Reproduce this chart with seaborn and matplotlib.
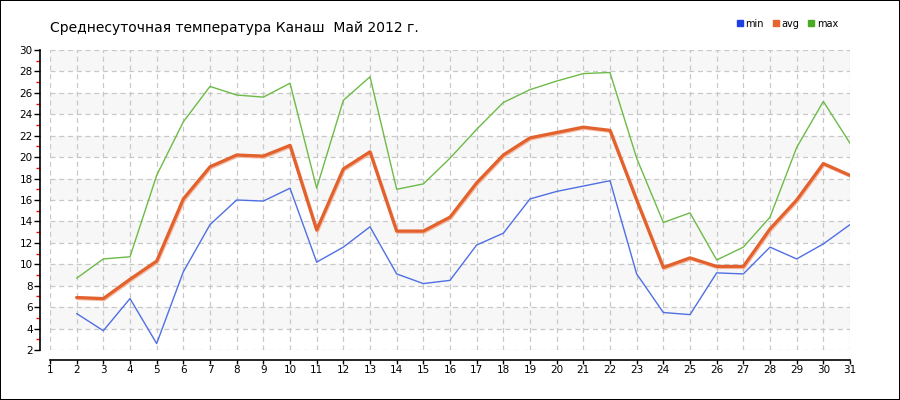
import numpy as np
import pandas as pd
import matplotlib
matplotlib.use("Agg")
import matplotlib.pyplot as plt
import matplotlib.patheffects as pe
from matplotlib.lines import Line2D
import seaborn as sns

# daily temperatures, Kanash, May 2012 (day 1 has no data)
days = list(range(2, 32))
t_min = [5.4, 3.8, 6.8, 2.6, 9.3, 13.7, 16.0, 15.9, 17.1, 10.2, 11.6, 13.5, 9.1, 8.2,
         8.5, 11.8, 12.9, 16.1, 16.8, 17.3, 17.8, 9.1, 5.5, 5.3, 9.2, 9.1, 11.6, 10.5,
         11.9, 13.7]
t_avg = [6.9, 6.8, 8.6, 10.3, 16.1, 19.1, 20.2, 20.1, 21.1, 13.2, 18.9, 20.5, 13.1, 13.1,
         14.4, 17.6, 20.2, 21.8, 22.3, 22.8, 22.5, 16.0, 9.7, 10.6, 9.8, 9.8, 13.3, 16.0,
         19.4, 18.3]
t_max = [8.7, 10.5, 10.7, 18.3, 23.3, 26.6, 25.8, 25.6, 26.9, 17.1, 25.3, 27.5, 17.0, 17.5,
         19.9, 22.6, 25.1, 26.3, 27.1, 27.8, 27.9, 19.9, 13.9, 14.8, 10.4, 11.6, 14.4, 20.9,
         25.2, 21.3]
x_ticks = list(range(1, 32))
y_ticks = list(range(2, 31, 2))
title = "Среднесуточная температура Канаш  Май 2012 г."

df = pd.DataFrame({"day": days, "min": t_min, "avg": t_avg, "max": t_max})

colors = {"min": "#4f6fe3", "avg": "#e2612c", "max": "#6cbb48"}
legend_colors = {"min": "#1e3ee6", "avg": "#e8642e", "max": "#4aab22"}

sns.set_style("white")
plt.rcParams["font.family"] = ["DejaVu Sans"]
plt.rcParams["text.color"] = "black"

fig = plt.figure(figsize=(9, 4), dpi=100, edgecolor="black", linewidth=1.1)
ax = fig.add_axes([50 / 900, 50 / 400, 800 / 900, 300 / 400])

# alternating light bands
for lo in range(4, 30, 4):
    ax.axhspan(lo, lo + 2, color="#f7f7f7", zorder=0, lw=0)

ax.grid(True, which="major", color="#c8c8c8", linestyle=(0, (4, 3)), linewidth=0.9)
ax.set_axisbelow(True)

sns.lineplot(data=df, x="day", y="min", ax=ax, color=colors["min"], linewidth=1.0)
sns.lineplot(data=df, x="day", y="max", ax=ax, color=colors["max"], linewidth=1.0)
sns.lineplot(data=df, x="day", y="avg", ax=ax, color=colors["avg"], linewidth=2.3,
             path_effects=[pe.SimpleLineShadow(offset=(0.6, -0.8), shadow_color="#f3b49a", alpha=0.9),
                           pe.Normal()])

ax.set_xlim(1, 31)
ax.set_ylim(2, 30)
ax.set_xticks(x_ticks)
ax.set_yticks(y_ticks)
ax.set_yticks(list(range(3, 30, 2)), minor=True)
ax.tick_params(axis="both", which="major", labelsize=7.5, colors="black", length=4, width=1, pad=1.5)
ax.tick_params(axis="y", which="minor", left=True, colors="red", length=3, width=1)
ax.tick_params(axis="x", which="major", length=3, pad=1)
ax.tick_params(left=True, bottom=True)
ax.set_xlabel("")
ax.set_ylabel("")

sns.despine(ax=ax, offset={"left": 7, "bottom": 7})
for s in ("left", "bottom"):
    ax.spines[s].set_color("black")
    ax.spines[s].set_linewidth(1.2)

fig.text(50 / 900, 1 - 28 / 400, title, fontsize=10, va="center", ha="left", color="black")

handles = [Line2D([], [], marker="s", linestyle="", markersize=5, color=legend_colors[k])
           for k in ("min", "avg", "max")]
fig.legend(handles, ["min", "avg", "max"], loc="upper right",
           bbox_to_anchor=(845 / 900, 1 - 12 / 400), ncol=3, frameon=False, fontsize=7,
           handlelength=0.6, handletextpad=0.3, columnspacing=0.9, borderpad=0.2,
           labelcolor="black")

fig.savefig("out.png", dpi=100, edgecolor=fig.get_edgecolor())
